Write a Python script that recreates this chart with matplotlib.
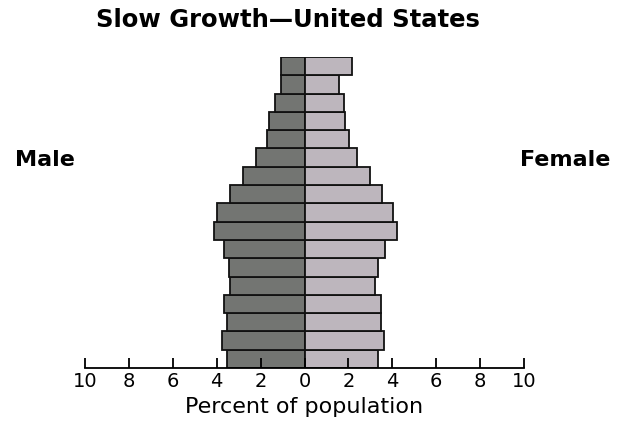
import matplotlib.pyplot as plt
import numpy as np

plt.rcParams['font.family'] = ['DejaVu Sans']

# age groups from youngest (bottom) to oldest (top), percent of population
age_groups = ["0-4", "5-9", "10-14", "15-19", "20-24", "25-29", "30-34", "35-39",
              "40-44", "45-49", "50-54", "55-59", "60-64", "65-69", "70-74", "75-79", "80+"]
male = [3.52, 3.77, 3.52, 3.67, 3.38, 3.44, 3.67, 4.14, 3.98,
        3.38, 2.79, 2.19, 1.73, 1.60, 1.35, 1.07, 1.07]
female = [3.37, 3.61, 3.50, 3.50, 3.21, 3.37, 3.66, 4.20, 4.05,
          3.52, 3.00, 2.39, 2.02, 1.86, 1.80, 1.55, 2.16]
tick_values = [-10, -8, -6, -4, -2, 0, 2, 4, 6, 8, 10]

male_color = "#737572"
female_color = "#bdb6bd"

fig = plt.figure(figsize=(6.18, 4.22), dpi=100)
ax = fig.add_axes([85 / 618, (422 - 368) / 422, (524 - 85) / 618, (368 - 57) / 422])

y = np.arange(len(age_groups))
ax.barh(y, [-m for m in male], height=1.0, color=male_color, edgecolor="#111111", linewidth=1.3)
ax.barh(y, female, height=1.0, color=female_color, edgecolor="#111111", linewidth=1.3)

ax.set_xlim(-10, 10)
ax.set_ylim(-0.5, len(age_groups) - 0.5)
ax.set_xticks(tick_values)
ax.set_xticklabels([str(abs(v)) for v in tick_values], fontsize=14)
ax.set_yticks([])
for s in ["left", "right", "top"]:
    ax.spines[s].set_visible(False)
ax.spines["bottom"].set_linewidth(1.3)
ax.tick_params(axis="x", direction="in", length=7, width=1.3, pad=3)

ax.set_xlabel("Percent of population", fontsize=16, labelpad=4)

fig.text(288 / 618, 0.952, "Slow Growth\u2014United States", ha="center", va="center",
         fontsize=17.5, fontweight="bold")
fig.text(15 / 618, (422 - 160) / 422, "Male", ha="left", va="center",
         fontsize=16, fontweight="bold")
fig.text(610 / 618, (422 - 160) / 422, "Female", ha="right", va="center",
         fontsize=16, fontweight="bold")

fig.savefig("out.png", dpi=100, facecolor="white")
